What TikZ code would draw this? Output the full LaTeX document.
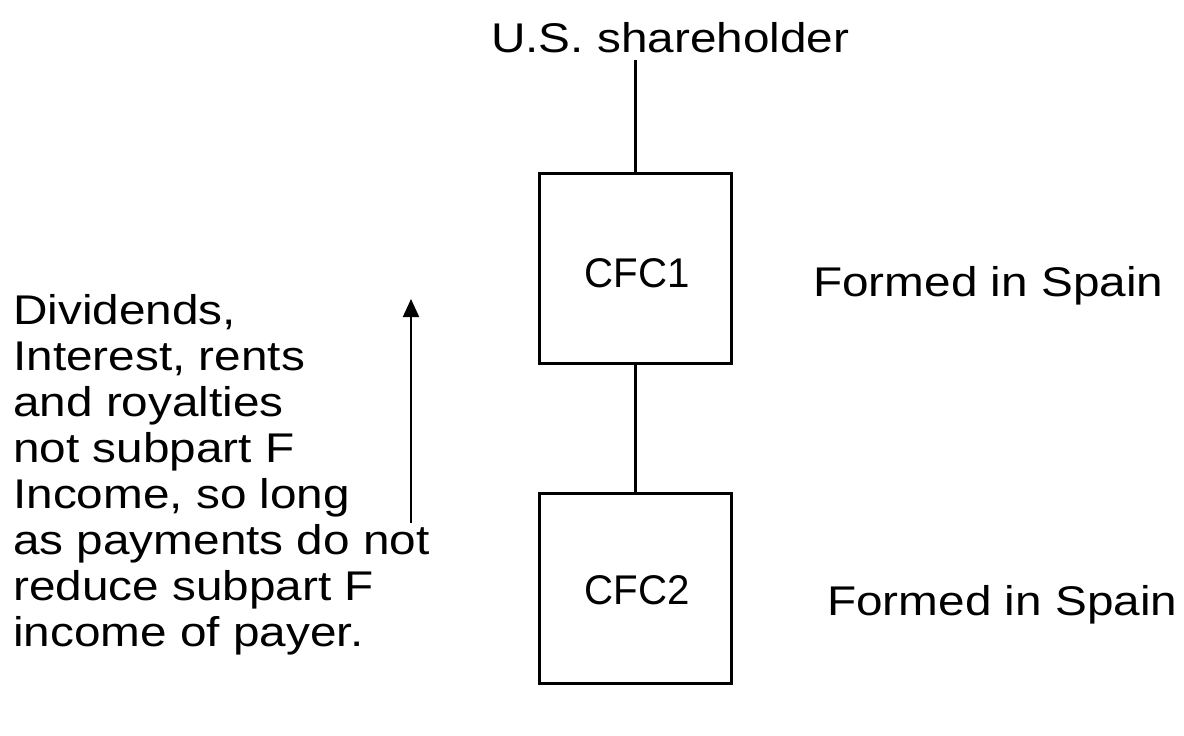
\documentclass[tikz,border=0pt]{standalone}
\usepackage{fontspec}
\setmainfont{Liberation Sans}[FakeStretch=1.15]
\newfontfamily\labelfont{Liberation Sans}[FakeStretch=0.97]
\usetikzlibrary{arrows.meta}
\begin{document}
\begin{tikzpicture}[x=1pt,y=-1pt,
  every node/.style={font=\fontsize{41.5}{46}\selectfont, inner sep=0pt},
  entity/.style={draw, line width=3pt, minimum width=192pt, minimum height=190pt},
  entityname/.style={anchor=base, font=\labelfont\fontsize{41.5}{46}\selectfont},
  link/.style={line width=3pt},
  flow/.style={line width=2pt, -{Triangle[length=18pt,width=16pt]}}]
  \useasboundingbox (0,0) rectangle (1184,736);

  % owner and the two controlled foreign corporations
  \node[anchor=base west] (us) at (491,52) {U.S. shareholder};
  \node[entity] (cfc1) at (635,268) {};
  \node[entityname] (cfc1t) at (637,287) {CFC1};
  \node[entity] (cfc2) at (635,588) {};
  \node[entityname] (cfc2t) at (637,604) {CFC2};

  % ownership chain
  \coordinate (ustop) at (635,60);
  \draw[link] (ustop) -- (cfc1.north);
  \draw[link] (cfc1.south) -- (cfc2.north);

  % place of formation
  \node[anchor=base west] (spain1) at (813,296) {Formed in Spain};
  \node[anchor=base west] (spain2) at (827,615) {Formed in Spain};

  % upstream payments
  \coordinate (payfoot) at (411,523);
  \coordinate (paytip) at (411,299);
  \draw[flow] (payfoot) -- (paytip);

  \node[anchor=north west, align=left] (note) at (13,294)
    {Dividends,\\Interest, rents\\and royalties\\not subpart F\\Income, so long\\as payments do not\\reduce subpart F\\income of payer.};
\end{tikzpicture}
\end{document}
